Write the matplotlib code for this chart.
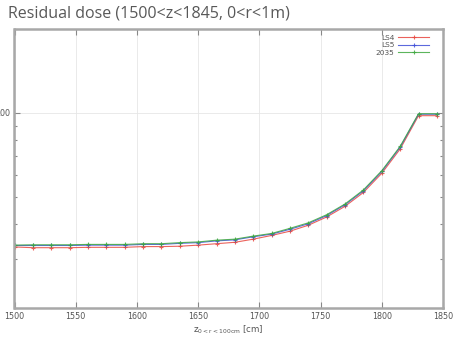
import matplotlib
matplotlib.use("Agg")
import matplotlib.pyplot as plt
from matplotlib.ticker import LogLocator, NullFormatter, FixedLocator

# z positions along the beam line [cm]
z_cm = [1500, 1515, 1530, 1545, 1560, 1575, 1590, 1605, 1620, 1635, 1650, 1665,
        1680, 1695, 1710, 1725, 1740, 1755, 1770, 1785, 1800, 1815, 1830, 1845]

# residual dose (log axis)
dose_ls4 = [33.1, 32.9, 32.9, 32.9, 33.0, 33.0, 33.0, 33.2, 33.2, 33.3, 33.6, 34.0,
            34.4, 35.3, 36.4, 37.7, 39.6, 42.4, 46.3, 51.9, 60.8, 74.3, 97.8, 97.8]
dose_ls5 = [33.5, 33.5, 33.5, 33.5, 33.6, 33.6, 33.6, 33.8, 33.8, 34.1, 34.3, 34.8,
            35.1, 36.0, 36.8, 38.3, 40.1, 42.9, 46.9, 52.6, 61.7, 75.4, 99.0, 99.0]
dose_2035 = [33.6, 33.7, 33.7, 33.7, 33.8, 33.8, 33.8, 34.0, 34.0, 34.3, 34.5, 35.0,
             35.3, 36.2, 37.0, 38.6, 40.4, 43.2, 47.2, 53.0, 62.1, 75.9, 99.4, 99.4]

series = [
    ("LS4", dose_ls4, "#e8473f"),
    ("LS5", dose_ls5, "#3f4fd8"),
    ("2035", dose_2035, "#3fa83f"),
]

x_ticks = [1500, 1550, 1600, 1650, 1700, 1750, 1800, 1850]

fig = plt.figure(figsize=(4.55, 3.41), dpi=100)
ax = fig.add_axes([14.5 / 455, 33 / 341, 428.5 / 455, 279 / 341])

for label, values, color in series:
    ax.plot(z_cm, values, color=color, lw=0.8, marker="+", ms=3.5, mew=0.8,
            label=label, alpha=0.85)

ax.set_yscale("log")
ax.set_xlim(1500, 1850)
ax.set_ylim(20, 200)

ax.xaxis.set_major_locator(FixedLocator(x_ticks))
ax.yaxis.set_major_locator(LogLocator(base=10))
ax.yaxis.set_minor_locator(LogLocator(base=10, subs=range(2, 10)))
ax.yaxis.set_minor_formatter(NullFormatter())
ax.yaxis.set_major_formatter(matplotlib.ticker.FuncFormatter(lambda v, p: f"{v:g}"))

ax.tick_params(which="both", direction="in", top=True, right=True,
               colors="#888888", labelcolor="#555555", labelsize=5.8, width=0.8)
ax.tick_params(which="major", length=4, pad=3)
ax.tick_params(which="minor", length=2.5)

ax.grid(True, which="major", color="#e6e6e6", lw=0.6)

for s in ax.spines.values():
    s.set_color("#a8a8a8")
    s.set_linewidth(1.8)

ax.set_xlabel(r"z$_{\mathregular{0<r<100cm}}$ [cm]", fontsize=6.2,
              color="#555555", labelpad=2)

# gnuplot-style key: label first, sample line on the right
ax.legend(loc="upper right", bbox_to_anchor=(1 - 8 / 428.5, 1),
          markerfirst=False, frameon=False, fontsize=5.3,
          handlelength=4.2, labelspacing=0.15, handletextpad=0.5,
          borderaxespad=0.4, labelcolor="#555555")

fig.text(8 / 455, 1 - 13 / 341, "Residual dose (1500<z<1845, 0<r<1m)",
         fontsize=11.5, family="Open Sans", color="#585858", va="center", ha="left")

fig.savefig("out.png", dpi=100)
